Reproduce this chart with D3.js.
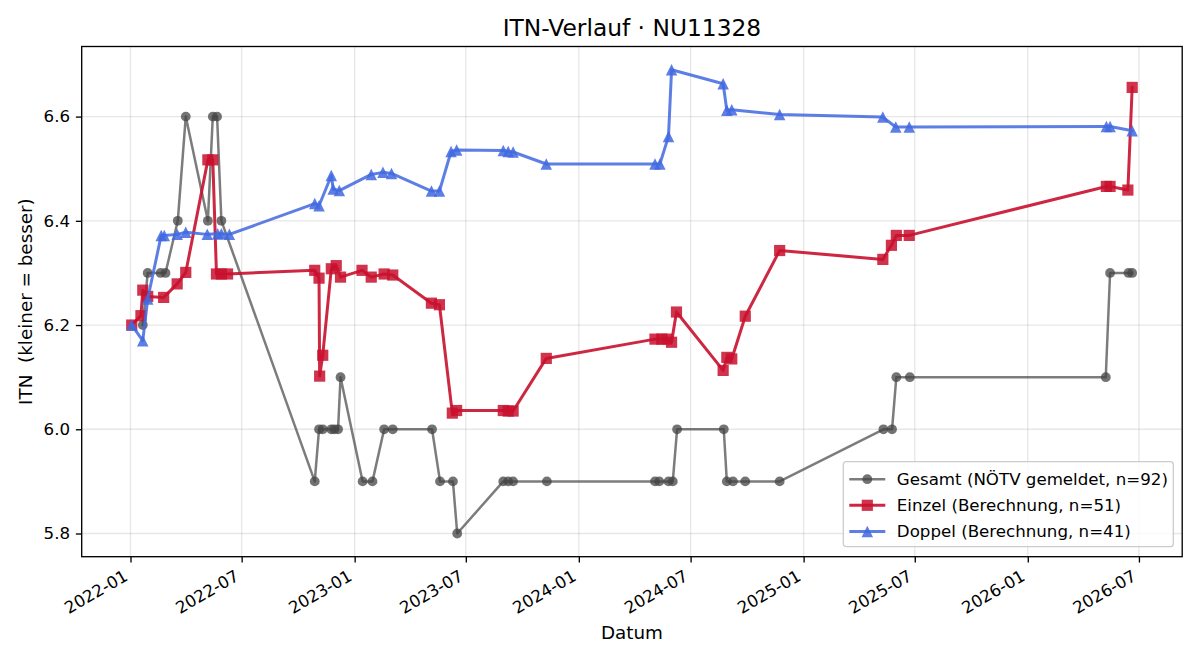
<!DOCTYPE html>
<html>
<head>
<meta charset="utf-8">
<script src="https://cdn.jsdelivr.net/npm/d3@7"></script>
<style>
  body { margin: 0; background: #fff; }
  text { font-family: "DejaVu Sans", sans-serif; }
</style>
</head>
<body>
<div id="chart"></div>
<script>
// Gesamt (NÖTV gemeldet)
var gesamtDates = ["2022-01-21","2022-01-29","2022-02-19","2022-02-27","2022-03-19","2022-04-01","2022-05-07","2022-05-15","2022-05-22","2022-05-29",
  "2022-10-28","2022-11-04","2022-11-10","2022-11-24","2022-11-29","2022-12-05","2022-12-09","2023-01-14","2023-01-30","2023-02-18","2023-03-04",
  "2023-05-07","2023-05-20","2023-06-10","2023-06-17","2023-08-31","2023-09-08","2023-09-16","2023-11-10",
  "2024-05-04","2024-05-11","2024-05-26","2024-06-02","2024-06-09","2024-08-24","2024-08-29","2024-09-08","2024-09-28","2024-11-23",
  "2025-05-11","2025-05-25","2025-06-01","2025-06-23","2026-05-08","2026-05-15","2026-06-14","2026-06-20"]
var gesamtValues = [6.2,6.3,6.3,6.3,6.4,6.6,6.4,6.6,6.6,6.4,
  5.9,6.0,6.0,6.0,6.0,6.0,6.1,5.9,5.9,6.0,6.0,
  6.0,5.9,5.9,5.8,5.9,5.9,5.9,5.9,
  5.9,5.9,5.9,5.9,6.0,6.0,5.9,5.9,5.9,5.9,
  6.0,6.0,6.1,6.1,6.1,6.3,6.3,6.3]

// Einzel (Berechnung)
var einzelDates = ["2022-01-03","2022-01-18","2022-01-21","2022-01-29","2022-02-24","2022-03-18","2022-04-01","2022-05-07","2022-05-15","2022-05-21","2022-05-29","2022-06-08",
  "2022-10-28","2022-11-04","2022-11-05","2022-11-10","2022-11-24","2022-12-02","2022-12-09","2023-01-13","2023-01-28","2023-02-18","2023-03-04",
  "2023-05-06","2023-05-19","2023-06-09","2023-06-16","2023-08-31","2023-09-08","2023-09-16","2023-11-09",
  "2024-05-04","2024-05-15","2024-05-23","2024-05-31","2024-06-08","2024-08-23","2024-08-29","2024-09-06","2024-09-28","2024-11-23",
  "2025-05-10","2025-05-24","2025-06-01","2025-06-22","2026-05-09","2026-05-15","2026-06-13","2026-06-20"]
var einzelValues = [6.2,6.218,6.267,6.255,6.253,6.279,6.301,6.517,6.517,6.298,6.298,6.298,
  6.305,6.29,6.102,6.142,6.308,6.314,6.292,6.305,6.292,6.298,6.296,
  6.242,6.239,6.031,6.036,6.036,6.035,6.035,6.136,
  6.173,6.173,6.173,6.167,6.225,6.113,6.138,6.135,6.217,6.343,
  6.326,6.353,6.372,6.372,6.466,6.466,6.459,6.656]

// Doppel (Berechnung)
var doppelDates = ["2022-01-03","2022-01-21","2022-01-29","2022-02-20","2022-02-25","2022-03-18","2022-04-01","2022-05-06","2022-05-23","2022-05-29","2022-06-11",
  "2022-10-28","2022-11-04","2022-11-24","2022-11-27","2022-12-07","2023-01-28","2023-02-16","2023-03-02",
  "2023-05-06","2023-05-19","2023-06-07","2023-06-16","2023-08-31","2023-09-08","2023-09-16","2023-11-09",
  "2024-05-04","2024-05-12","2024-05-26","2024-05-31","2024-08-23","2024-08-29","2024-09-06","2024-11-23",
  "2025-05-10","2025-05-31","2025-06-22","2026-05-09","2026-05-15","2026-06-20"]
var doppelValues = [6.2,6.17,6.25,6.372,6.372,6.374,6.378,6.374,6.375,6.375,6.374,
  6.433,6.429,6.487,6.461,6.458,6.489,6.493,6.491,
  6.457,6.457,6.533,6.536,6.535,6.533,6.532,6.509,
  6.509,6.509,6.562,6.69,6.663,6.612,6.613,6.604,
  6.599,6.58,6.58,6.581,6.581,6.573]

var yTicks = [5.8, 6.0, 6.2, 6.4, 6.6]

var width = 1200
var height = 660
var margins = { top: 46.5, right: 17.8, bottom: 103.3, left: 81.7 }
var innerW = width - margins.left - margins.right
var innerH = height - margins.top - margins.bottom
var pt = 120 / 72   // px per point
var tickFont = 10 * pt

var parse = d3.utcParse("%Y-%m-%d")
function zip(dates, values) {
    return dates.map((d, i) => ({ date: parse(d), value: values[i] }))
}

var series = [
    { name: "Gesamt (NÖTV gemeldet, n=92)", data: zip(gesamtDates, gesamtValues), color: "#444444",
      lineOpacity: 0.7, lineWidth: 1.5 * pt, marker: "circle", size: 9.8, markerOpacity: 0.75 },
    { name: "Einzel (Berechnung, n=51)", data: zip(einzelDates, einzelValues), color: "#C8102E",
      lineOpacity: 0.9, lineWidth: 1.8 * pt, marker: "square", size: 11.2, markerOpacity: 0.85 },
    { name: "Doppel (Berechnung, n=41)", data: zip(doppelDates, doppelValues), color: "#4169E1",
      lineOpacity: 0.85, lineWidth: 1.8 * pt, marker: "triangle", size: 11.5, markerOpacity: 0.85 }
]

// marker shapes like matplotlib's o, s, ^ (size = full width in px)
function markerPath(kind, s) {
    var h = s / 2
    if (kind === "circle") {
        return "M" + h + ",0A" + h + "," + h + " 0 1,1 " + (-h) + ",0A" + h + "," + h + " 0 1,1 " + h + ",0Z"
    }
    if (kind === "square") {
        return "M" + (-h) + "," + (-h) + "H" + h + "V" + h + "H" + (-h) + "Z"
    }
    return "M0," + (-h) + "L" + h + "," + h + "L" + (-h) + "," + h + "Z"
}

var allPts = series.flatMap(s => s.data)
var xExt = d3.extent(allPts, d => d.date)
var xPad = (xExt[1] - xExt[0]) * 0.05
var yExt = d3.extent(allPts, d => d.value)
var yPad = (yExt[1] - yExt[0]) * 0.05

var xScale = d3.scaleUtc()
    .domain([new Date(+xExt[0] - xPad), new Date(+xExt[1] + xPad)])
    .range([0, innerW])
var yScale = d3.scaleLinear()
    .domain([yExt[0] - yPad, yExt[1] + yPad])
    .range([innerH, 0])

var svg = d3.select("#chart")
    .append("svg")
    .attr("width", width)
    .attr("height", height)

var g = svg.append("g")
    .attr("transform", "translate(" + margins.left + "," + margins.top + ")")

var xTicks = xScale.ticks(d3.utcMonth.every(6))

// grid
g.append("g").selectAll("line")
    .data(xTicks).enter().append("line")
    .attr("x1", d => xScale(d)).attr("x2", d => xScale(d))
    .attr("y1", 0).attr("y2", innerH)
    .attr("stroke", "#b0b0b0").attr("stroke-opacity", 0.3).attr("stroke-width", 0.8 * pt)
g.append("g").selectAll("line")
    .data(yTicks).enter().append("line")
    .attr("x1", 0).attr("x2", innerW)
    .attr("y1", d => yScale(d)).attr("y2", d => yScale(d))
    .attr("stroke", "#b0b0b0").attr("stroke-opacity", 0.3).attr("stroke-width", 0.8 * pt)

// axes
var tickLen = 3.5 * pt
var xaxis = d3.axisBottom(xScale).tickValues(xTicks).tickFormat(d3.utcFormat("%Y-%m")).tickSizeOuter(0).tickSize(tickLen)
var yaxis = d3.axisLeft(yScale).tickValues(yTicks).tickFormat(d3.format(".1f")).tickSizeOuter(0).tickSize(tickLen).tickPadding(tickLen)

var gx = g.append("g")
    .attr("transform", "translate(0," + innerH + ")")
    .call(xaxis)
gx.select(".domain").remove()
gx.selectAll("line").attr("stroke-width", 0.8 * pt)
// rotated labels: bbox right edge at tick, bbox top below tick + pad
var asc = 0.76 * tickFont, desc = 0.24 * tickFont
gx.selectAll("text")
    .attr("font-size", tickFont + "px")
    .attr("font-family", "DejaVu Sans, sans-serif")
    .attr("fill", "#000")
    .attr("x", null).attr("y", null).attr("dy", null)
    .style("text-anchor", "end")
    .attr("transform", "translate(" + (-0.5 * desc) + "," + (2 * tickLen + 0.866 * asc) + ") rotate(-30)")

var gy = g.append("g").call(yaxis)
gy.select(".domain").remove()
gy.selectAll("line").attr("stroke-width", 0.8 * pt)
gy.selectAll("text")
    .attr("font-size", tickFont + "px")
    .attr("font-family", "DejaVu Sans, sans-serif")
    .attr("fill", "#000")

// lines + markers
var line = d3.line().x(d => xScale(d.date)).y(d => yScale(d.value))

series.forEach(s => {
    g.append("path")
        .datum(s.data)
        .attr("d", line)
        .attr("fill", "none")
        .attr("stroke", s.color)
        .attr("stroke-opacity", s.lineOpacity)
        .attr("stroke-width", s.lineWidth)
        .attr("stroke-linejoin", "round")
        .attr("stroke-linecap", "square")
    g.append("g").selectAll("path")
        .data(s.data).enter().append("path")
        .attr("d", markerPath(s.marker, s.size))
        .attr("transform", d => "translate(" + xScale(d.date) + "," + yScale(d.value) + ")")
        .attr("fill", s.color)
        .attr("fill-opacity", s.markerOpacity)
})

// frame
g.append("rect")
    .attr("width", innerW).attr("height", innerH)
    .attr("fill", "none").attr("stroke", "#000").attr("stroke-width", 0.8 * pt)

// title and labels
svg.append("text")
    .attr("x", margins.left + innerW / 2).attr("y", 35.7)
    .attr("text-anchor", "middle").attr("font-size", (14 * pt) + "px")
    .text("ITN-Verlauf · NU11328")
svg.append("text")
    .attr("x", margins.left + innerW / 2).attr("y", 639)
    .attr("text-anchor", "middle").attr("font-size", (11 * pt) + "px")
    .text("Datum")
svg.append("text")
    .attr("transform", "translate(32," + (margins.top + innerH / 2) + ") rotate(-90)")
    .attr("text-anchor", "middle").attr("font-size", (11 * pt) + "px")
    .style("white-space", "pre")
    .text("ITN  (kleiner = besser)")

// legend
var lg = svg.append("g").attr("transform", "translate(843.3,461.7)")
lg.append("rect")
    .attr("width", 330).attr("height", 85).attr("rx", 3)
    .attr("fill", "#fff").attr("fill-opacity", 0.8)
    .attr("stroke", "#cccccc").attr("stroke-width", 1.3)
series.forEach((s, i) => {
    var yy = 17.5 + i * 26.1
    lg.append("line")
        .attr("x1", 6).attr("x2", 42).attr("y1", yy).attr("y2", yy)
        .attr("stroke", s.color).attr("stroke-opacity", s.lineOpacity).attr("stroke-width", s.lineWidth)
    lg.append("path")
        .attr("d", markerPath(s.marker, s.size))
        .attr("transform", "translate(24," + yy + ")")
        .attr("fill", s.color).attr("fill-opacity", s.markerOpacity)
    lg.append("text")
        .attr("x", 53.5).attr("y", yy + 6)
        .attr("font-size", tickFont + "px")
        .text(s.name)
})
</script>
</body>
</html>
